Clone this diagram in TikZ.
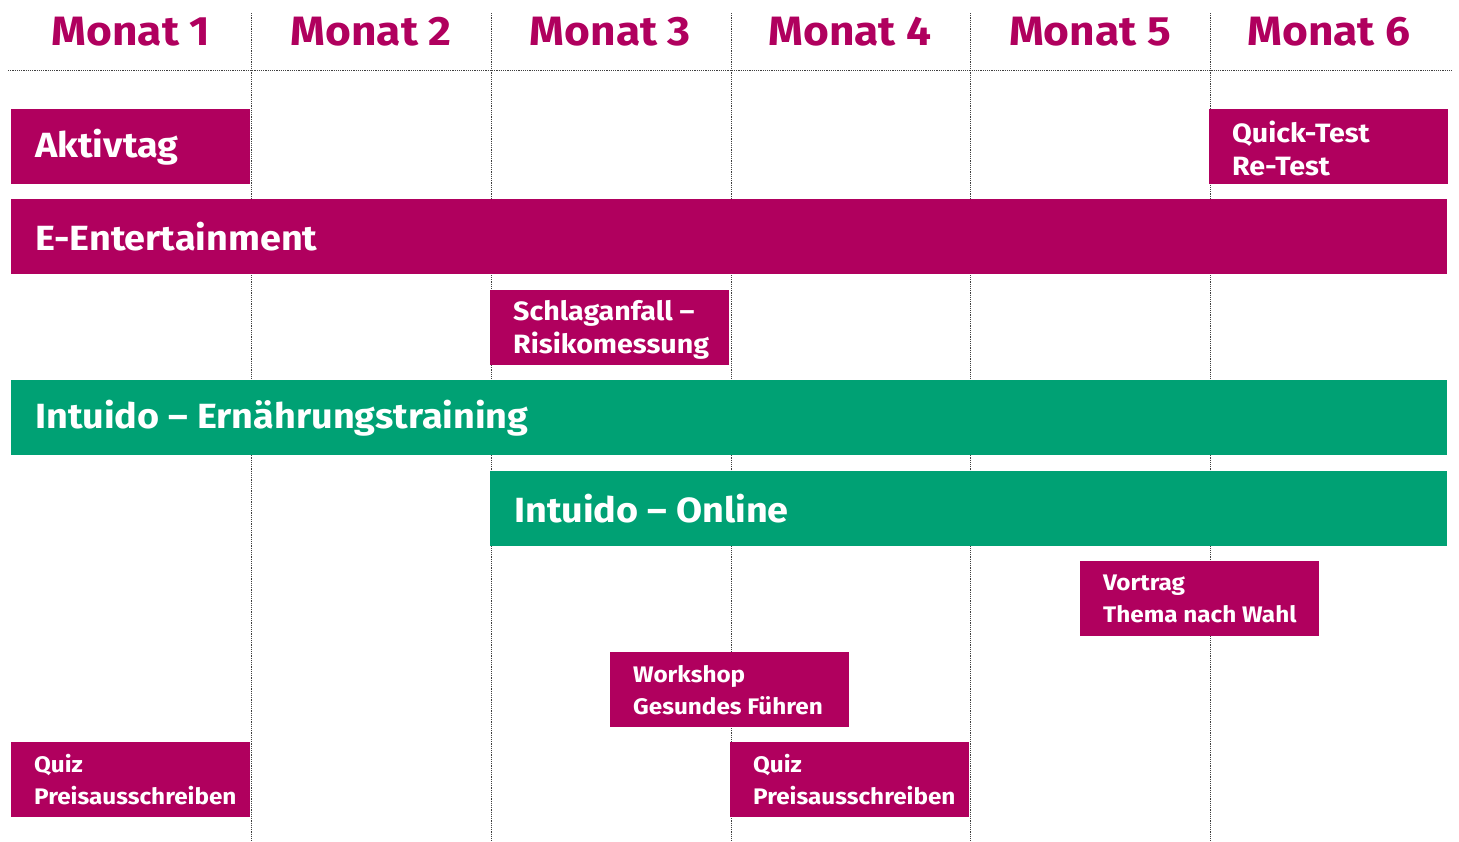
\documentclass[tikz,border=0pt]{standalone}
\usepackage{fontspec}
\setmainfont{Fira Sans}[FakeStretch=1.08]
\definecolor{magentabar}{HTML}{B0005E}
\definecolor{greenbar}{HTML}{00A174}
\begin{document}
\begin{tikzpicture}[x=1pt,y=-1pt,
  gridline/.style={black!75,line width=1pt,dash pattern=on 1.1pt off 1.1pt},
  header/.style={text=magentabar,font=\fontsize{41}{45}\selectfont\bfseries},
  barbox/.style={fill=#1,draw=none},
  bigtext/.style={text=white,anchor=west,inner sep=0pt,font=\fontsize{35}{40}\selectfont\bfseries},
  midtext/.style={text=white,anchor=west,inner sep=0pt,align=left,font=\fontsize{26.5}{33}\selectfont\bfseries},
  smalltext/.style={text=white,anchor=west,inner sep=0pt,align=left,font=\fontsize{22.5}{32}\selectfont\bfseries}
]
\useasboundingbox (0,0) rectangle (1459,841);
% grid
\draw[gridline] (8,70) -- (1452,70);
\foreach \x in {251,491,731,970,1210} \draw[gridline] (\x,13) -- (\x,841);
% headers
\node[header] (m1) at (131,32) {Monat 1};
\node[header] (m2) at (371,32) {Monat 2};
\node[header] (m3) at (610.5,32) {Monat 3};
\node[header] (m4) at (850,32) {Monat 4};
\node[header] (m5) at (1090,32) {Monat 5};
\node[header] (m6) at (1329,32) {Monat 6};
% bars
\fill[barbox=magentabar] (11,109) rectangle (250,184);
\node[bigtext] (aktiv) at (35,147) {Aktivtag};
\fill[barbox=magentabar] (1209,109) rectangle (1448,184);
\node[midtext] (quick) at (1232,148) {Quick-Test\\Re-Test};
\fill[barbox=magentabar] (11,199) rectangle (1447,274);
\node[bigtext] (eent) at (35,237) {E-Entertainment};
\fill[barbox=magentabar] (490,290) rectangle (729,365);
\node[midtext] (schlag) at (513,329.5) {Schlaganfall –\\Risikomessung};
\fill[barbox=greenbar] (11,380) rectangle (1447,455);
\node[bigtext] (intuido) at (35,418) {Intuido – Ernährungstraining};
\fill[barbox=greenbar] (490,471) rectangle (1447,546);
\node[bigtext] (online) at (514,509) {Intuido – Online};
\fill[barbox=magentabar] (1080,561) rectangle (1319,636);
\node[smalltext] (vortrag) at (1103,599) {Vortrag\\Thema nach Wahl};
\fill[barbox=magentabar] (610,652) rectangle (849,727);
\node[smalltext] (workshop) at (633,690) {Workshop\\Gesundes Führen};
\fill[barbox=magentabar] (11,742) rectangle (250,817);
\node[smalltext] (quiz1) at (34,780) {Quiz\\Preisausschreiben};
\fill[barbox=magentabar] (730,742) rectangle (969,817);
\node[smalltext] (quiz2) at (753,780) {Quiz\\Preisausschreiben};
\end{tikzpicture}
\end{document}
